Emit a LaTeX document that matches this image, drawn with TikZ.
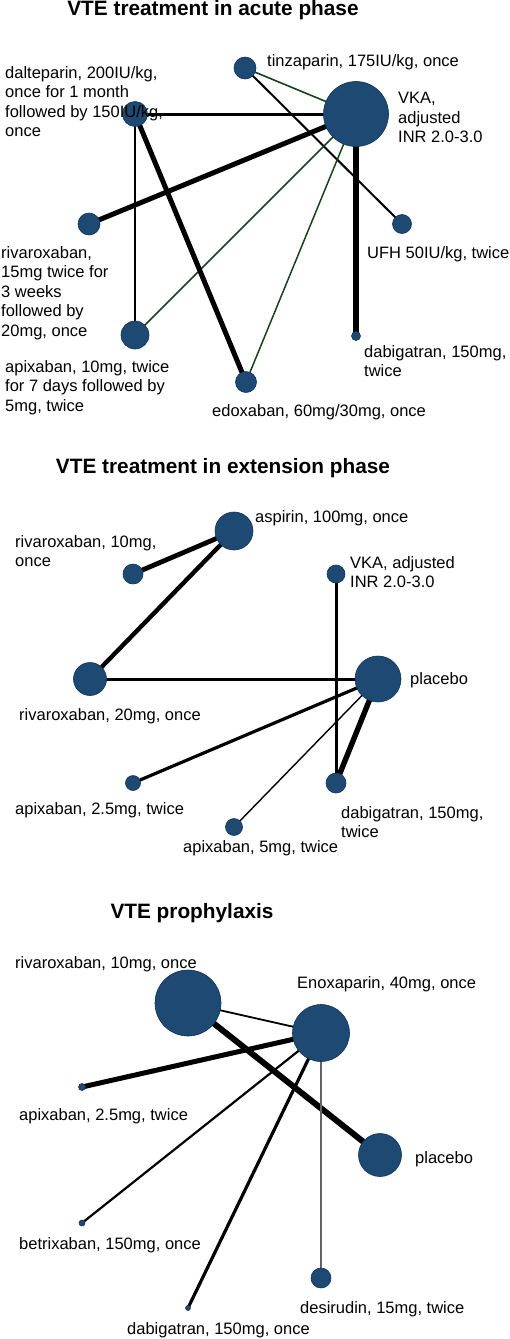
\documentclass[tikz,border=0pt]{standalone}
\usepackage{fontspec}
\setmainfont{Liberation Sans}
\usetikzlibrary{backgrounds}
\definecolor{nodeblue}{RGB}{30,73,114}
\definecolor{nodeedge}{RGB}{18,52,88}
\definecolor{edgegreen}{RGB}{22,68,22}
\definecolor{edgegray}{RGB}{100,100,100}
\tikzset{
  drug/.style={circle, fill=nodeblue, draw=nodeedge, line width=0.6pt, inner sep=0pt, minimum size=#1},
  lbl/.style={anchor=north west, inner sep=0pt, align=left, font=\fontsize{16.5}{19.5}\selectfont},
  ttl/.style={anchor=center, inner sep=0pt, font=\fontsize{20.8}{25}\selectfont\bfseries},
  link/.style={line width=#1, draw=black},
  glink/.style={line width=#1, draw=edgegreen},
}
\begin{document}
\begin{tikzpicture}[x=1pt,y=-1pt]
\useasboundingbox (0,0) rectangle (509,1339);

% ---------- Section 1 ----------
\node[ttl] (t1) at (213,10) {VTE treatment in acute phase};
\node[drug=22pt] (tin) at (245,68) {};
\node[drug=65pt] (vka) at (356,114) {};
\node[drug=25pt] (dal) at (135,114) {};
\node[drug=22pt] (riv) at (89,224) {};
\node[drug=28pt] (api) at (135,335) {};
\node[drug=21pt] (edo) at (246,382) {};
\node[drug=9pt] (dab) at (356,336) {};
\node[drug=19pt] (ufh) at (402,224) {};
\begin{scope}[on background layer]
  \draw[link=3pt] (dal.center) -- (vka.center);
  \draw[glink=1.6pt] (tin.center) -- (vka.center);
  \draw[link=2pt] (tin.center) -- (ufh.center);
  \draw[link=5pt] (vka.center) -- (riv.center);
  \draw[glink=1.5pt] (vka.center) -- (api.center);
  \draw[glink=1.5pt] (vka.center) -- (edo.center);
  \draw[link=6pt] (vka.center) -- (dab.center);
  \draw[link=1.8pt] (dal.center) -- (api.center);
  \draw[link=5pt] (dal.center) -- (edo.center);
\end{scope}
\node[lbl] (ltin) at (267,54) {tinzaparin, 175IU/kg, once};
\node[lbl] (ldal) at (5,66) {dalteparin, 200IU/kg,\\once for 1 month\\followed by 150IU/kg,\\once};
\node[lbl] (lvka) at (398,92) {VKA,\\adjusted\\INR 2.0-3.0};
\node[lbl] (lriv) at (1,246) {rivaroxaban,\\15mg twice for\\3 weeks\\followed by\\20mg, once};
\node[lbl] (lufh) at (367,246) {UFH 50IU/kg, twice};
\node[lbl] (lapi) at (5,360) {apixaban, 10mg, twice\\for 7 days followed by\\5mg, twice};
\node[lbl] (ldab) at (364,345) {dabigatran, 150mg,\\twice};
\node[lbl] (ledo) at (212,404) {edoxaban, 60mg/30mg, once};

% ---------- Section 2 ----------
\node[ttl] (t2) at (223,468) {VTE treatment in extension phase};
\node[drug=38pt] (asp) at (234,531) {};
\node[drug=20pt] (r10) at (133,574) {};
\node[drug=18pt] (vkb) at (336,574) {};
\node[drug=33pt] (r20) at (90,679) {};
\node[drug=46pt] (plc) at (378,679) {};
\node[drug=15pt] (a25) at (133,783) {};
\node[drug=20pt] (dbb) at (336,783) {};
\node[drug=17pt] (a5) at (234,827) {};
\begin{scope}[on background layer]
  \draw[link=4.8pt] (asp.center) -- (r10.center);
  \draw[link=4.4pt] (asp.center) -- (r20.center);
  \draw[link=3pt] (r20.center) -- (plc.center);
  \draw[link=3pt] (vkb.center) -- (dbb.center);
  \draw[link=3.2pt] (plc.center) -- (a25.center);
  \draw[link=1.4pt] (plc.center) -- (a5.center);
  \draw[link=5.4pt] (plc.center) -- (dbb.center);
\end{scope}
\node[lbl] (lasp) at (255,510) {aspirin, 100mg, once};
\node[lbl] (lr10) at (15,535) {rivaroxaban, 10mg,\\once};
\node[lbl] (lvkb) at (350,556) {VKA, adjusted\\INR 2.0-3.0};
\node[lbl] (lplc) at (410,672) {placebo};
\node[lbl] (lr20) at (19,708) {rivaroxaban, 20mg, once};
\node[lbl] (la25) at (15,802) {apixaban, 2.5mg, twice};
\node[lbl] (ldbb) at (341,806) {dabigatran, 150mg,\\twice};
\node[lbl] (la5) at (183,840) {apixaban, 5mg, twice};

% ---------- Section 3 ----------
\node[ttl] (t3) at (192,913) {VTE prophylaxis};
\node[drug=66pt] (rc) at (188,1003) {};
\node[drug=57pt] (enx) at (321,1033) {};
\node[drug=7pt] (ac) at (82,1087) {};
\node[drug=43pt] (pc) at (380,1155) {};
\node[drug=6pt] (bet) at (82,1223) {};
\node[drug=5pt] (dc) at (188,1308) {};
\node[drug=20pt] (des) at (321,1278) {};
\begin{scope}[on background layer]
  \draw[link=1.8pt] (rc.center) -- (enx.center);
  \draw[link=6pt] (rc.center) -- (pc.center);
  \draw[link=5pt] (enx.center) -- (ac.center);
  \draw[link=2.2pt] (enx.center) -- (bet.center);
  \draw[link=3.2pt] (enx.center) -- (dc.center);
  \draw[line width=1.1pt, draw=edgegray] (enx.center) -- (des.center);
\end{scope}
\node[lbl] (lrc) at (15,956) {rivaroxaban, 10mg, once};
\node[lbl] (lenx) at (297,976) {Enoxaparin, 40mg, once};
\node[lbl] (lac) at (19,1108) {apixaban, 2.5mg, twice};
\node[lbl] (lpc) at (415,1151) {placebo};
\node[lbl] (lbet) at (19,1237) {betrixaban, 150mg, once};
\node[lbl] (ldes) at (300,1301) {desirudin, 15mg, twice};
\node[lbl] (ldc) at (127,1322) {dabigatran, 150mg, once};
\end{tikzpicture}
\end{document}
